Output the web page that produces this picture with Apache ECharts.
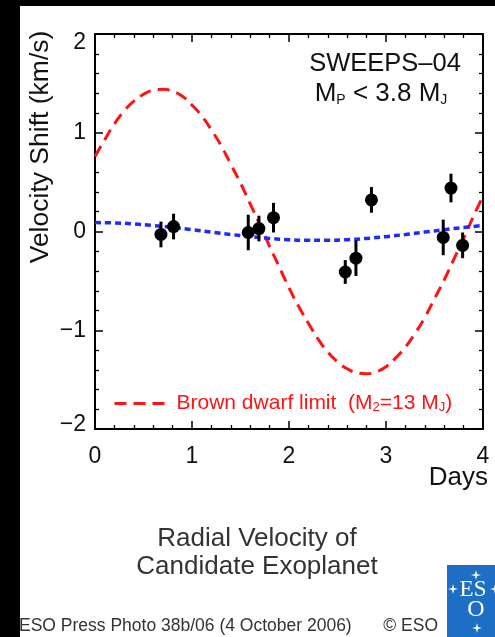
<!DOCTYPE html>
<html>
<head>
<meta charset="utf-8">
<script src="https://cdn.jsdelivr.net/npm/echarts@6/dist/echarts.min.js"></script>
<style>
html,body{margin:0;padding:0;background:#fff;}
#chart{width:495px;height:637px;}
</style>
</head>
<body>
<div id="chart"></div>
<script>
// Observed radial velocity points (days, km/s, error)
const obsDays   = [0.68, 0.81, 1.58, 1.69, 1.84, 2.58, 2.69, 2.85, 3.59, 3.67, 3.79];
const obsShift  = [-0.03, 0.05, -0.01, 0.03, 0.14, -0.41, -0.27, 0.32, -0.06, 0.44, -0.14];
const obsErr    = [0.13, 0.13, 0.18, 0.13, 0.15, 0.12, 0.18, 0.13, 0.18, 0.145, 0.13];

// Brown dwarf limit curve (red dashed)
const bdDays  = [0.0,0.1,0.2,0.3,0.4,0.5,0.6,0.7,0.8,0.9,1.0,1.1,1.2,1.3,1.4,1.5,1.6,1.7,1.8,1.9,2.0,
                 2.1,2.2,2.3,2.4,2.5,2.6,2.7,2.8,2.9,3.0,3.1,3.2,3.3,3.4,3.5,3.6,3.7,3.8,3.9,4.0];
const bdShift = [0.76,0.93,1.09,1.22,1.32,1.39,1.43,1.44,1.42,1.37,1.28,1.17,1.03,0.87,0.68,0.49,0.28,0.07,-0.15,-0.36,-0.57,
                 -0.76,-0.93,-1.09,-1.22,-1.32,-1.39,-1.43,-1.44,-1.42,-1.37,-1.28,-1.17,-1.03,-0.87,-0.68,-0.49,-0.28,-0.07,0.15,0.36];

// Best-fit planet curve (blue dotted)
const fitDays  = [0.0,0.2,0.4,0.6,0.8,1.0,1.2,1.4,1.6,1.8,2.0,2.2,2.4,2.6,2.8,3.0,3.2,3.4,3.6,3.8,4.0];
const fitShift = [0.09,0.087,0.077,0.061,0.041,0.018,-0.006,-0.030,-0.052,-0.070,-0.083,-0.089,-0.089,-0.083,-0.070,-0.052,-0.030,-0.006,0.018,0.041,0.061];

// Axis ticks
const xTicks = [0, 1, 2, 3, 4];
const yTicks = [-2, -1, 0, 1, 2];

const chart = echarts.init(document.getElementById('chart'));
const font = '"Liberation Sans", Arial, Helvetica, sans-serif';
const redC = '#ff1414';
const blueC = '#1c2cff';

function axisCommon(showLabel, isY) {
  const lo = isY ? yTicks[0] : xTicks[0];
  const hi = isY ? yTicks[yTicks.length - 1] : xTicks[xTicks.length - 1];
  return {
    type: 'value',
    min: lo,
    max: hi,
    interval: 1,
    axisLine: { show: true, onZero: false, lineStyle: { color: '#000', width: 2 } },
    axisTick: { show: true, inside: true, length: 8, lineStyle: { color: '#000', width: 1.5 } },
    minorTick: { show: true, splitNumber: 5, length: 4, lineStyle: { color: '#000', width: 1.3 } },
    splitLine: { show: false },
    axisLabel: {
      show: showLabel,
      color: '#111',
      fontFamily: font,
      fontSize: 23,
      margin: isY ? 9 : 16,
      formatter: v => {
        const s = String(v).replace('-', '\u2212');
        if (isY && v === hi) return '{hi|' + s + '}';
        if (isY && v === lo) return '{lo|' + s + '}';
        return s;
      },
      rich: {
        hi: { fontFamily: font, fontSize: 23, color: '#111', padding: [18, 0, 0, 0] },
        lo: { fontFamily: font, fontSize: 23, color: '#111', padding: [0, 0, 8, 0] }
      }
    }
  };
}

const option = {
  backgroundColor: '#fff',
  animation: false,
  grid: { left: 95, right: 12, top: 34, bottom: 208, containLabel: false },
  xAxis: [
    Object.assign(axisCommon(true, false), { position: 'bottom' }),
    Object.assign(axisCommon(false, false), { position: 'top' })
  ],
  yAxis: [
    Object.assign(axisCommon(true, true), { position: 'left' }),
    Object.assign(axisCommon(false, true), { position: 'right' })
  ],
  legend: {
    data: ['Brown dwarf limit'],
    left: 108,
    top: 388,
    itemWidth: 50,
    itemHeight: 14,
    lineStyle: { width: 3 },
    itemStyle: { opacity: 0 },
    formatter: () => '{t|Brown dwarf limit  (M}{s|2}{t|=13 M}{s|J}{t|)}',
    textStyle: {
      color: redC,
      fontFamily: font,
      rich: {
        t: { fontSize: 21, color: redC, fontFamily: font },
        s: { fontSize: 13, color: redC, fontFamily: font, verticalAlign: 'bottom', padding: [8, 0, 0, 0] }
      },
      padding: [0, 0, 0, 7]
    }
  },
  series: [
    {
      name: 'Brown dwarf limit',
      type: 'line',
      data: bdDays.map((d, i) => [d, bdShift[i]]),
      symbol: 'none',
      smooth: true,
      lineStyle: { color: redC, width: 3, type: [12, 7] },
      itemStyle: { color: redC },
      z: 2
    },
    {
      name: 'Best fit',
      type: 'line',
      data: fitDays.map((d, i) => [d, fitShift[i]]),
      symbol: 'none',
      smooth: true,
      lineStyle: { color: blueC, width: 3.5, type: [6, 4] },
      itemStyle: { color: blueC },
      z: 3
    },
    {
      name: 'Error',
      type: 'custom',
      data: obsDays.map((d, i) => [d, obsShift[i] - obsErr[i], obsShift[i] + obsErr[i]]),
      renderItem: (params, api) => {
        const lo = api.coord([api.value(0), api.value(1)]);
        const hi = api.coord([api.value(0), api.value(2)]);
        return {
          type: 'line',
          shape: { x1: lo[0], y1: lo[1], x2: hi[0], y2: hi[1] },
          style: { stroke: '#000', lineWidth: 3 }
        };
      },
      z: 4
    },
    {
      name: 'Observed',
      type: 'scatter',
      data: obsDays.map((d, i) => [d, obsShift[i]]),
      symbol: 'circle',
      symbolSize: 13,
      itemStyle: { color: '#000', opacity: 1 },
      z: 5
    }
  ],
  graphic: [
    { type: 'rect', shape: { x: 0, y: 0, width: 495, height: 6 }, style: { fill: '#000' }, z: 100 },
    { type: 'rect', shape: { x: 0, y: 0, width: 20, height: 637 }, style: { fill: '#000' }, z: 100 },
    {
      type: 'text', x: 41, y: 147, rotation: Math.PI / 2,
      style: { text: 'Velocity Shift (km/s)', fontFamily: font, fontSize: 26.5, fill: '#111', textAlign: 'center', textVerticalAlign: 'middle' }
    },
    {
      type: 'text', x: 488, y: 478,
      style: { text: 'Days', fontFamily: font, fontSize: 26, fill: '#111', textAlign: 'right', textVerticalAlign: 'middle' }
    },
    {
      type: 'text', x: 385, y: 64,
      style: { text: 'SWEEPS\u201304', fontFamily: font, fontSize: 25.5, fill: '#111', textAlign: 'center', textVerticalAlign: 'middle' }
    },
    {
      type: 'text', x: 381, y: 94,
      style: {
        text: '{a|M}{s|P}{a| < 3.8 M}{s|J}',
        textAlign: 'center', textVerticalAlign: 'middle',
        rich: {
          a: { fontFamily: font, fontSize: 26, fill: '#111', color: '#111' },
          s: { fontFamily: font, fontSize: 14, fill: '#111', color: '#111', verticalAlign: 'bottom', padding: [8, 0, 0, 0] }
        }
      }
    },
    {
      type: 'text', x: 257, y: 539,
      style: { text: 'Radial Velocity of', fontFamily: font, fontSize: 26, fill: '#333', textAlign: 'center', textVerticalAlign: 'middle' }
    },
    {
      type: 'text', x: 257, y: 567,
      style: { text: 'Candidate Exoplanet', fontFamily: font, fontSize: 26, fill: '#333', textAlign: 'center', textVerticalAlign: 'middle' }
    },
    {
      type: 'text', x: 19, y: 626,
      style: { text: 'ESO Press Photo 38b/06 (4 October 2006)', fontFamily: font, fontSize: 17.5, fill: '#333', textAlign: 'left', textVerticalAlign: 'middle' }
    },
    {
      type: 'text', x: 438, y: 626,
      style: { text: '\u00A9 ESO', fontFamily: font, fontSize: 17.5, fill: '#333', textAlign: 'right', textVerticalAlign: 'middle' }
    },
    {
      type: 'group', x: 447, y: 565,
      children: [
        { type: 'rect', shape: { x: 0, y: 0, width: 48, height: 72 }, style: { fill: '#1d6ec4' } },
        { type: 'text', x: 26, y: 25, style: { text: 'ES', fontFamily: '"Liberation Serif", "DejaVu Serif", serif', fontSize: 23, fill: '#fff', textAlign: 'center', textVerticalAlign: 'middle' } },
        { type: 'text', x: 29, y: 45, style: { text: 'O', fontFamily: '"Liberation Serif", "DejaVu Serif", serif', fontSize: 24, fill: '#fff', textAlign: 'center', textVerticalAlign: 'middle' } },
        { type: 'polygon', shape: { points: [[29,5],[30,9],[34,10],[30,11],[29,15],[28,11],[24,10],[28,9]] }, style: { fill: '#fff' } },
        { type: 'polygon', shape: { points: [[6,19],[7,23],[11,24],[7,25],[6,29],[5,25],[1,24],[5,23]] }, style: { fill: '#fff' } },
        { type: 'polygon', shape: { points: [[48,19],[49,23],[53,24],[49,25],[48,29],[47,25],[43,24],[47,23]] }, style: { fill: '#fff' } },
        { type: 'polygon', shape: { points: [[30,58],[31,62],[35,63],[31,64],[30,68],[29,64],[25,63],[29,62]] }, style: { fill: '#fff' } }
      ]
    }
  ]
};
chart.setOption(option);
</script>
</body>
</html>
